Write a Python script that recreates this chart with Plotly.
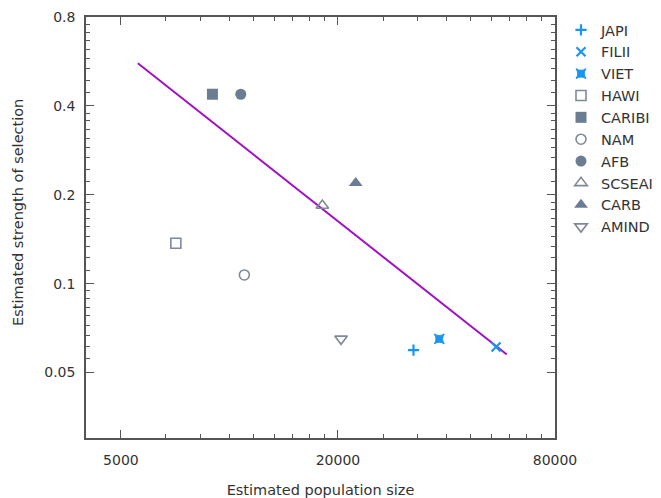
import plotly.graph_objects as go
import numpy as np

# ---- data ----
groups = ["JAPI", "FILII", "VIET", "HAWI", "CARIBI", "NAM", "AFB", "SCSEAI", "CARB", "AMIND"]
pop_size = [32400, 54900, 38200, 7100, 8970, 11000, 10750, 18100, 22400, 20400]
selection = [0.0595, 0.061, 0.065, 0.137, 0.438, 0.107, 0.438, 0.184, 0.219, 0.065]

fit_x = [5570, 58800]
fit_y = [0.558, 0.0575]

x_ticks = [5000, 20000, 80000]
x_tick_text = ["5000", "20000", "80000"]
y_ticks = [0.05, 0.1, 0.2, 0.4, 0.8]
y_tick_text = ["0.05", "0.1", "0.2", "0.4", "0.8"]

# ---- styles ----
BLUE = "#1a96f0"
GRAY_OPEN = "#7f8a99"
GRAY_FILL = "#6b7d93"
styles = {
    "JAPI":   dict(symbol="cross-thin", size=8, color=BLUE, line=dict(color=BLUE, width=2.2)),
    "FILII":  dict(symbol="x-thin", size=9, color=BLUE, line=dict(color=BLUE, width=2.2)),
    "VIET":   dict(symbol="star-square", size=9, color=BLUE, line=dict(color=BLUE, width=1)),
    "HAWI":   dict(symbol="square-open", size=10, color=GRAY_OPEN, line=dict(color=GRAY_OPEN, width=1.6)),
    "CARIBI": dict(symbol="square", size=11, color=GRAY_FILL, line=dict(width=0)),
    "NAM":    dict(symbol="circle-open", size=10, color=GRAY_OPEN, line=dict(color=GRAY_OPEN, width=1.6)),
    "AFB":    dict(symbol="circle", size=11, color=GRAY_FILL, line=dict(width=0)),
    "SCSEAI": dict(symbol="triangle-up-open", size=11, color=GRAY_OPEN, line=dict(color=GRAY_OPEN, width=1.6)),
    "CARB":   dict(symbol="triangle-up", size=12, color=GRAY_FILL, line=dict(width=0)),
    "AMIND":  dict(symbol="triangle-down-open", size=11, color=GRAY_OPEN, line=dict(color=GRAY_OPEN, width=1.6)),
}

def minor_vals(majors, n=9):
    vals = []
    for a, b in zip(majors[:-1], majors[1:]):
        step = (b - a) / n
        vals += [a + step * k for k in range(1, n)]
    return vals

XR = [np.log10(4000), np.log10(80000)]
YR = [np.log10(0.03), np.log10(0.8)]

fig = go.Figure()
# invisible trace to anchor the minor-tick overlay axes
fig.add_trace(go.Scatter(x=[10000], y=[0.1], xaxis="x2", yaxis="y2", mode="markers",
                         marker=dict(opacity=0), showlegend=False, hoverinfo="skip"))
fig.add_trace(go.Scatter(x=fit_x, y=fit_y, mode="lines",
                         line=dict(color="#a010c4", width=2), showlegend=False))
for g, xv, yv in zip(groups, pop_size, selection):
    fig.add_trace(go.Scatter(x=[xv], y=[yv], mode="markers", name=g, marker=styles[g]))

AX = "#555555"
FONT = "DejaVu Sans"
fig.update_layout(
    width=661, height=498,
    margin=dict(l=86, r=106, t=17, b=60, autoexpand=False),
    paper_bgcolor="white", plot_bgcolor="white",
    font=dict(family=FONT, size=14, color="#333333"),
    legend=dict(x=561 / 661, xanchor="left", y=1 - 14 / 498, yanchor="top",
                xref="container", yref="container",
                font=dict(family=FONT, size=14.5, color="#333333"),
                bgcolor="rgba(0,0,0,0)", itemwidth=30, tracegroupgap=0),
    xaxis=dict(type="log", range=XR, automargin=False,
               tickvals=x_ticks, ticktext=x_tick_text,
               ticks="inside", ticklen=8, tickwidth=1.2, tickcolor=AX,
               showline=True, linecolor=AX, linewidth=1.5, mirror="ticks",
               showgrid=False, zeroline=False, ticklabelstandoff=8,
               title=dict(text="Estimated population size", font=dict(size=14.5), standoff=18)),
    yaxis=dict(type="log", range=YR, automargin=False,
               tickvals=y_ticks, ticktext=y_tick_text,
               ticks="inside", ticklen=8, tickwidth=1.2, tickcolor=AX,
               showline=True, linecolor=AX, linewidth=1.5, mirror="ticks",
               showgrid=False, zeroline=False, ticklabelstandoff=6),
    xaxis2=dict(type="log", range=XR, overlaying="x", anchor="y2", side="bottom", automargin=False,
                tickvals=minor_vals(x_ticks), showticklabels=False,
                ticks="inside", ticklen=4, tickwidth=1, tickcolor=AX,
                showline=True, linecolor=AX, linewidth=1.5, mirror="ticks",
                showgrid=False, zeroline=False),
    yaxis2=dict(type="log", range=YR, overlaying="y", anchor="x2", side="left", automargin=False,
                tickvals=minor_vals(y_ticks), showticklabels=False,
                ticks="inside", ticklen=4, tickwidth=1, tickcolor=AX,
                showline=True, linecolor=AX, linewidth=1.5, mirror="ticks",
                showgrid=False, zeroline=False),
    annotations=[dict(text="Estimated strength of selection", textangle=-90,
                      xref="paper", yref="paper", x=(18 - 86) / 469, y=(438 - 213) / 421,
                      xanchor="center", yanchor="middle", showarrow=False,
                      font=dict(family=FONT, size=14.5, color="#333333"))],
)
fig.write_html("out.html")
